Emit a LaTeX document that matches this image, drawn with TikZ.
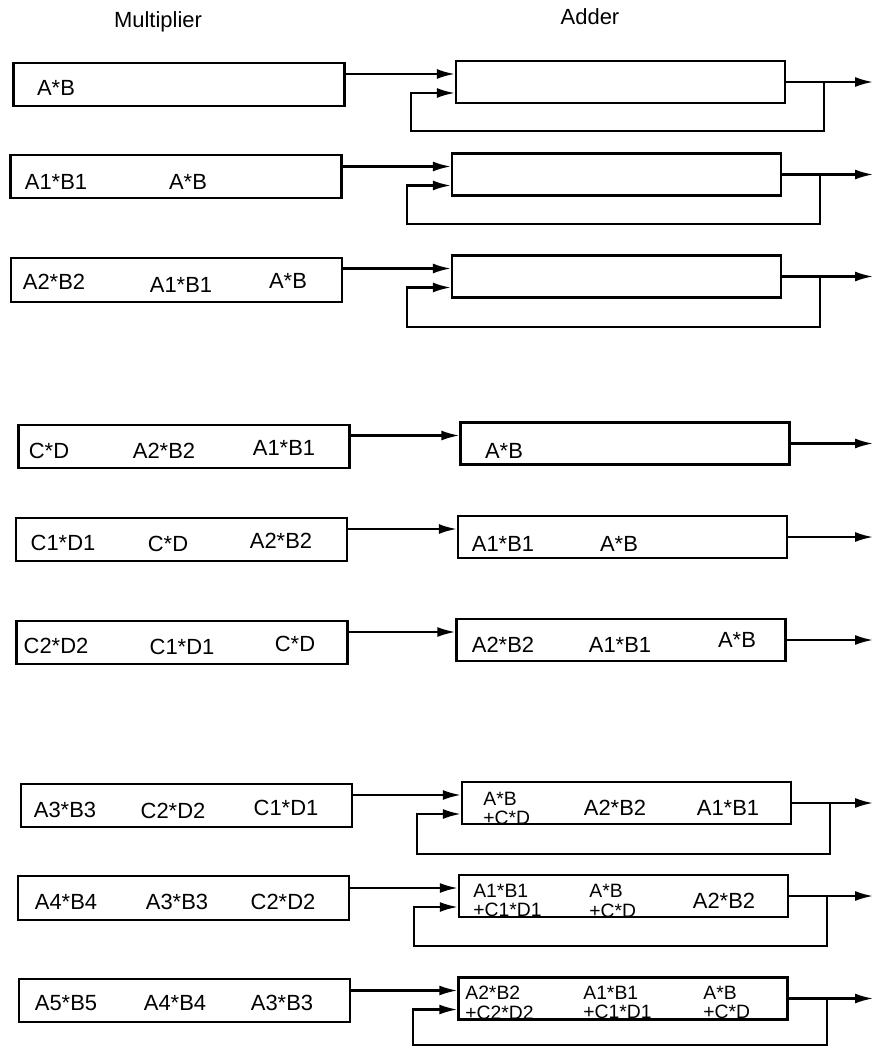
\documentclass[tikz,border=0pt]{standalone}
\usepackage{fontspec}
\setsansfont{Liberation Sans}
\usetikzlibrary{arrows.meta, positioning, calc}

\begin{document}
\begin{tikzpicture}[
        x=0.02cm, y=-0.02cm,
        font=\sffamily\fontsize{12.5}{15}\selectfont,
        mulbox/.style={rectangle, draw, line width=1.4pt, minimum width=6.62cm, minimum height=0.87cm, inner sep=0pt},
        addbox/.style={rectangle, draw, line width=1.4pt, minimum width=6.58cm, minimum height=0.84cm, inner sep=0pt},
        lbl/.style={inner sep=0pt},
        stack/.style={inner sep=0pt, anchor=west, align=left, font=\sffamily\fontsize{11}{11.2}\selectfont},
        conn/.style={line width=1.2pt, -{Latex[length=0.36cm, width=0.2cm]}}
    ]
        \useasboundingbox (0,0) rectangle (875,1047);

        \node (mulhead) at (158,22) {Multiplier};
        \node (addhead) at (590,17) {Adder};

        % multiplier stages
        \node (m1) [mulbox] at (179,84.5) {};
        \node (m2) [mulbox] at (176,176.5) {};
        \node (m3) [mulbox] at (176.5,280) {};
        \node (m4) [mulbox] at (184,446.5) {};
        \node (m5) [mulbox] at (181.5,539.5) {};
        \node (m6) [mulbox] at (182,642.5) {};
        \node (m7) [mulbox] at (186.5,805.5) {};
        \node (m8) [mulbox] at (183.5,898) {};
        \node (m9) [mulbox] at (184.5,1000.5) {};

        % adder stages
        \node (a1) [addbox] at (620.5,82) {};
        \node (a2) [addbox] at (616.5,174.5) {};
        \node (a3) [addbox] at (616.5,276.5) {};
        \node (a4) [addbox] at (625,443.5) {};
        \node (a5) [addbox] at (622.5,537) {};
        \node (a6) [addbox] at (621,640) {};
        \node (a7) [addbox] at (626.5,803) {};
        \node (a8) [addbox] at (623.5,896) {};
        \node (a9) [addbox] at (623,998.5) {};

        % multiplier contents
        \node (m1a) [lbl] at (56,88) {A*B};
        \node (m2a) [lbl] at (56,182) {A1*B1};
        \node (m2b) [lbl] at (188,182) {A*B};
        \node (m3a) [lbl] at (54,282) {A2*B2};
        \node (m3b) [lbl] at (181,285) {A1*B1};
        \node (m3c) [lbl] at (288,281) {A*B};
        \node (m4a) [lbl] at (49,451) {C*D};
        \node (m4b) [lbl] at (164,451) {A2*B2};
        \node (m4c) [lbl] at (284,448) {A1*B1};
        \node (m5a) [lbl] at (63,543) {C1*D1};
        \node (m5b) [lbl] at (168,544) {C*D};
        \node (m5c) [lbl] at (281,541) {A2*B2};
        \node (m6a) [lbl] at (56,646) {C2*D2};
        \node (m6b) [lbl] at (182,647) {C1*D1};
        \node (m6c) [lbl] at (295,644) {C*D};
        \node (m7a) [lbl] at (65,810) {A3*B3};
        \node (m7b) [lbl] at (173,811) {C2*D2};
        \node (m7c) [lbl] at (286,808) {C1*D1};
        \node (m8a) [lbl] at (66,902) {A4*B4};
        \node (m8b) [lbl] at (177,902) {A3*B3};
        \node (m8c) [lbl] at (283,902) {C2*D2};
        \node (m9a) [lbl] at (66,1003) {A5*B5};
        \node (m9b) [lbl] at (175,1003) {A4*B4};
        \node (m9c) [lbl] at (282,1003) {A3*B3};

        % adder contents
        \node (a4a) [lbl] at (504,451) {A*B};
        \node (a5a) [lbl] at (503,544) {A1*B1};
        \node (a5b) [lbl] at (619,544) {A*B};
        \node (a6a) [lbl] at (503,645) {A2*B2};
        \node (a6b) [lbl] at (620,645) {A1*B1};
        \node (a6c) [lbl] at (737,640) {A*B};
        \node (a7a) [stack] at (483,808.5) {A*B\\+C*D};
        \node (a7b) [lbl] at (615,808) {A2*B2};
        \node (a7c) [lbl] at (728,808) {A1*B1};
        \node (a8a) [stack] at (473,900.5) {A1*B1\\+C1*D1};
        \node (a8b) [stack] at (589,901) {A*B\\+C*D};
        \node (a8c) [lbl] at (724,901) {A2*B2};
        \node (a9a) [stack] at (465,1002.5) {A2*B2\\+C2*D2};
        \node (a9b) [stack] at (583,1002.5) {A1*B1\\+C1*D1};
        \node (a9c) [stack] at (703,1002.5) {A*B\\+C*D};

        \coordinate (rim) at (873,0);
        \foreach \r in {1,...,9} {
            \coordinate (in\r) at ($(a\r.west)+(0,-8)$);
            \draw [conn] (m\r.east |- in\r) -- (in\r);
            \draw [conn] (a\r.east) -- (a\r.east -| rim);
        }

        % accumulator feedback
        \foreach \r/\d in {1/27,2/27,3/28,7/29,8/28,9/24} {
            \coordinate (fb\r) at ($(a\r.west)+(0,11)$);
            \draw [conn] ($(a\r.east)+(38,0)$) |- ($(a\r.south)+(0,\d)$) -| ($(fb\r)+(-44,0)$) -- (fb\r);
        }
    \end{tikzpicture}
\end{document}
